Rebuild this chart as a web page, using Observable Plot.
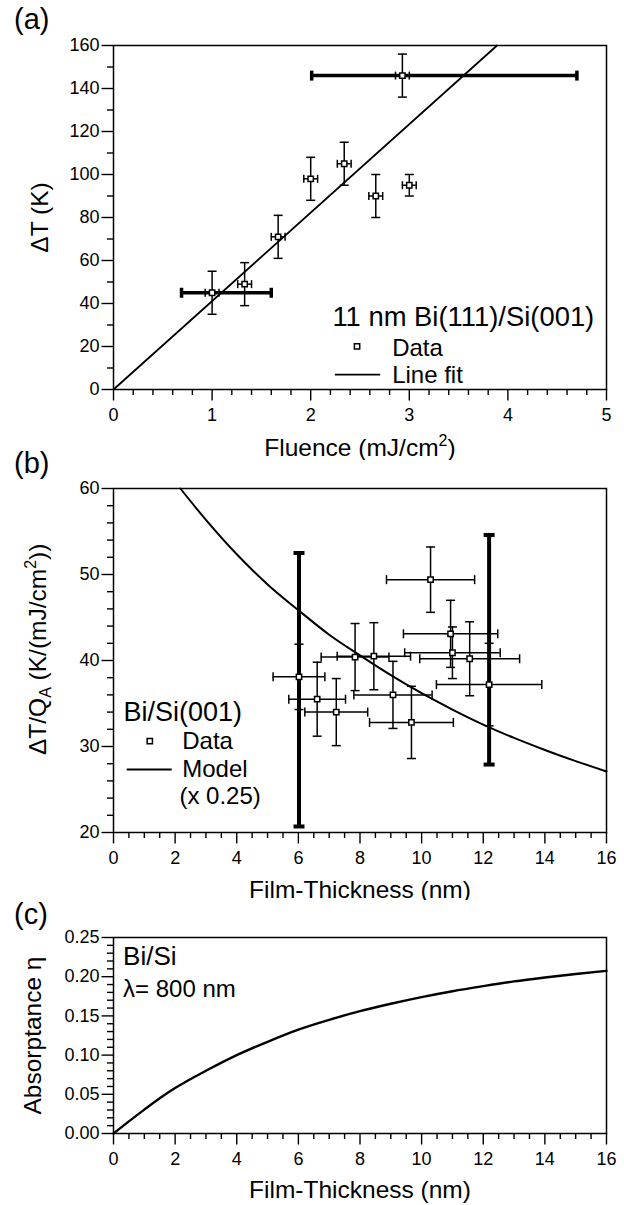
<!DOCTYPE html>
<html>
<head>
<meta charset="utf-8">
<script src="https://cdn.jsdelivr.net/npm/d3@7"></script>
<script src="https://cdn.jsdelivr.net/npm/@observablehq/plot@0.6"></script>
<style>
  body { margin: 0; background: #fff; }
  #wrap { position: relative; width: 624px; height: 1205px; background: #fff;
          font-family: "Liberation Sans", Arial, sans-serif; color: #000; }
  .panel { position: absolute; left: 0; }
  .plab { position: absolute; left: 14px; font-size: 29px; line-height: 29px; }
</style>
</head>
<body>
<div id="wrap">
  <div class="panel" id="pa" style="top:0px"></div>
  <div class="panel" id="pb" style="top:460px"></div>
  <div class="panel" id="pc" style="top:900px"></div>
  <div class="plab" style="top:5px">(a)</div>
  <div class="plab" style="top:449px">(b)</div>
  <div class="plab" style="top:900px">(c)</div>
</div>
<script>
// ---------- Panel (a): 11 nm Bi(111)/Si(001) ----------
const fluence      = [1.00, 1.33, 1.67, 2.00, 2.34, 2.66, 3.00, 2.93];
const deltaT       = [45, 49, 71, 98, 105, 90, 95, 146];
const deltaTErr    = [10, 10, 10, 10, 10, 10, 5, 10];
const fluenceErr   = [0.07, 0.07, 0.07, 0.07, 0.07, 0.07, 0.07, 0.07];
const wideErrY     = [45, 146];
const wideErrLo    = [0.69, 2.01];
const wideErrHi    = [1.60, 4.70];
const fitFluence   = [0, 3.89];
const fitDeltaT    = [0, 160];
const ticksFluence = [0, 1, 2, 3, 4, 5];
const ticksDeltaT  = [0, 20, 40, 60, 80, 100, 120, 140, 160];

// ---------- Panel (b): Bi/Si(001) ----------
const thickness    = [6.02, 6.61, 7.23, 7.84, 8.45, 9.07, 9.67, 10.29, 10.94, 11.00, 11.56, 12.19];
const dTQ          = [38.1, 35.5, 34.0, 40.4, 40.5, 36.0, 32.8, 49.4, 43.1, 40.9, 40.2, 37.2];
const dTQErr       = [3.8, 4.3, 3.9, 3.9, 3.9, 3.9, 4.2, 3.8, 3.9, 3.0, 4.3, 4.8];
const thicknessErr = [0.84, 0.92, 1.02, 1.10, 1.19, 1.27, 1.36, 1.43, 1.53, 1.55, 1.62, 1.71];
const wideQX       = [6.02, 12.19];
const wideQLo      = [20.7, 27.9];
const wideQHi      = [52.5, 54.6];
const modelThick   = [2.17, 3, 4, 5, 6, 7, 8, 9, 10, 11, 12, 13, 14, 15, 16];
const modelValue   = [60.0, 56.35, 52.35, 48.85, 45.85, 43.0, 40.6, 38.3, 36.2, 34.3, 32.55, 31.0, 29.6, 28.3, 27.1];
const ticksThick   = [0, 2, 4, 6, 8, 10, 12, 14, 16];
const ticksQ       = [20, 30, 40, 50, 60];

// ---------- Panel (c): absorptance ----------
const absThick     = [0, 0.5, 1, 1.5, 2, 3, 4, 5, 6, 7, 8, 9, 10, 11, 12, 13, 14, 15, 16];
const absorptance  = [0, 0.0155, 0.0305, 0.045, 0.058, 0.080, 0.100, 0.117, 0.1325, 0.145, 0.156, 0.1655, 0.174, 0.1815, 0.188, 0.194, 0.199, 0.2035, 0.2075];
const ticksAbs     = [0, 0.05, 0.10, 0.15, 0.20, 0.25];

// ---------- helpers ----------
const FONT = '"Liberation Sans", Arial, sans-serif';
const capH = {draw(ctx, size) { const r = Math.sqrt(size / Math.PI); ctx.moveTo(-r, 0); ctx.lineTo(r, 0); }};
const capV = {draw(ctx, size) { const r = Math.sqrt(size / Math.PI); ctx.moveTo(0, -r); ctx.lineTo(0, r); }};
const minor = (majors, step, n) => {
  const out = [];
  for (let i = 0; i < majors.length - 1; i++)
    for (let k = 1; k < n; k++) out.push(+(majors[i] + k * step).toFixed(4));
  return out;
};
const baseStyle = {fontFamily: FONT, fontSize: "18px", color: "black", background: "white", overflow: "visible"};
function axes(xt, xm, yt, ym, yfmt) {
  return [
    Plot.axisX(xt, {tickSize: 11.5, tickPadding: 7, label: null, strokeWidth: 1.4, fontSize: 18}),
    Plot.axisX(xm, {tickSize: 6, tickFormat: () => "", label: null, strokeWidth: 1.4}),
    Plot.axisY(yt, {tickSize: 11.5, tickPadding: 2.5, label: null, strokeWidth: 1.4, fontSize: 18, tickFormat: yfmt}),
    Plot.axisY(ym, {tickSize: 6, tickFormat: () => "", label: null, strokeWidth: 1.4}),
    Plot.frame({stroke: "black", strokeWidth: 1.5})
  ];
}
function errBarsY(data, x, lo, hi, sw, cap) {
  return [
    Plot.ruleX(data, {x, y1: lo, y2: hi, stroke: "black", strokeWidth: sw}),
    Plot.dot(data, {x, y: lo, symbol: capH, r: cap, stroke: "black", strokeWidth: sw, fill: "none"}),
    Plot.dot(data, {x, y: hi, symbol: capH, r: cap, stroke: "black", strokeWidth: sw, fill: "none"})
  ];
}
function errBarsX(data, y, lo, hi, sw, cap) {
  return [
    Plot.ruleY(data, {y, x1: lo, x2: hi, stroke: "black", strokeWidth: sw}),
    Plot.dot(data, {x: lo, y, symbol: capV, r: cap, stroke: "black", strokeWidth: sw, fill: "none"}),
    Plot.dot(data, {x: hi, y, symbol: capV, r: cap, stroke: "black", strokeWidth: sw, fill: "none"})
  ];
}
function rich(svg, plain, parts) {
  for (const t of svg.querySelectorAll("text")) {
    if (t.textContent === plain) {
      while (t.firstChild) t.removeChild(t.firstChild);
      for (const p of parts) {
        const s = document.createElementNS("http://www.w3.org/2000/svg", "tspan");
        s.textContent = p.t;
        if (p.dy) s.setAttribute("dy", p.dy);
        if (p.fs) s.setAttribute("font-size", p.fs);
        t.appendChild(s);
      }
    }
  }
}
const yTitle = (label, opts) => Plot.text([label], {frameAnchor: "left", rotate: -90, textAnchor: "middle", lineAnchor: "middle", fontSize: 24.5, ...opts});
const xTitle = (label, dy) => Plot.text([label], {frameAnchor: "bottom", dy, textAnchor: "middle", lineAnchor: "middle", fontSize: 24.5});
const legendText = (label, x, y, fontSize) => Plot.text([label], {x, y, textAnchor: "start", lineAnchor: "middle", fontSize});

// ---------- Panel (a) ----------
const A  = fluence.map((f, i) => ({x: f, y: deltaT[i], ex: fluenceErr[i], ey: deltaTErr[i]}));
const AW = wideErrY.map((y, i) => ({y, lo: wideErrLo[i], hi: wideErrHi[i]}));
const FIT = fitFluence.map((x, i) => ({x, y: fitDeltaT[i]}));
const plotA = Plot.plot({
  width: 624, height: 460,
  marginLeft: 113, marginRight: 18, marginTop: 45, marginBottom: 71,
  style: baseStyle,
  x: {domain: [0, 5]},
  y: {domain: [0, 160]},
  marks: [
    ...axes(ticksFluence, minor(ticksFluence, 0.2, 5), ticksDeltaT, minor(ticksDeltaT, 10, 2)),
    Plot.line(FIT, {x: "x", y: "y", stroke: "black", strokeWidth: 1.8}),
    ...errBarsX(AW, "y", "lo", "hi", 3.5, 5),
    ...errBarsY(A, "x", d => d.y - d.ey, d => d.y + d.ey, 1.5, 4.5),
    ...errBarsX(A, "y", d => d.x - d.ex, d => d.x + d.ex, 1.5, 4),
    Plot.dot(A, {x: "x", y: "y", symbol: "square", r: 3, fill: "white", stroke: "black", strokeWidth: 1.5}),
    // legend
    legendText("11 nm Bi(111)/Si(001)", 2.22, 33.6, 27.4),
    Plot.dot([0], {x: 2.47, y: 20.1, symbol: "square", r: 3, fill: "white", stroke: "black", strokeWidth: 1.5}),
    legendText("Data", 2.826, 19.2, 24),
    Plot.ruleY([0], {y: 6.9, x1: 2.25, x2: 2.71, stroke: "black", strokeWidth: 1.8}),
    legendText("Line fit", 2.826, 6.6, 24),
    // axis titles
    yTitle("ΔT (K)", {dx: -73}),
    xTitle("Fluence (mJ/cm2)", 59)
  ]
});
rich(plotA, "Fluence (mJ/cm2)", [{t: "Fluence (mJ/cm"}, {t: "2", dy: -10, fs: 16}, {t: ")", dy: 10}]);
document.getElementById("pa").appendChild(plotA);

// ---------- Panel (b) ----------
const B  = thickness.map((t, i) => ({x: t, y: dTQ[i], ex: thicknessErr[i], ey: dTQErr[i]}));
const BW = wideQX.map((x, i) => ({x, lo: wideQLo[i], hi: wideQHi[i]}));
const MODEL = modelThick.map((x, i) => ({x, y: modelValue[i]}));
const plotB = Plot.plot({
  width: 624, height: 440,
  marginLeft: 113, marginRight: 18, marginTop: 28, marginBottom: 68,
  style: baseStyle,
  x: {domain: [0, 16]},
  y: {domain: [20, 60]},
  marks: [
    ...axes(ticksThick, minor(ticksThick, 0.5, 4), ticksQ, minor(ticksQ, 2, 5)),
    Plot.line(MODEL, {x: "x", y: "y", curve: "monotone-x", stroke: "black", strokeWidth: 2}),
    ...errBarsY(BW, "x", "lo", "hi", 4, 5.5),
    ...errBarsX(B, "y", d => d.x - d.ex, d => d.x + d.ex, 1.5, 4.5),
    ...errBarsY(B, "x", d => d.y - d.ey, d => d.y + d.ey, 1.5, 4.5),
    Plot.dot(B, {x: "x", y: "y", symbol: "square", r: 3, fill: "white", stroke: "black", strokeWidth: 1.5}),
    // legend
    legendText("Bi/Si(001)", 0.325, 34.0, 27),
    Plot.dot([0], {x: 1.178, y: 30.62, symbol: "square", r: 3, fill: "white", stroke: "black", strokeWidth: 1.5}),
    legendText("Data", 2.23, 30.63, 24),
    Plot.ruleY([0], {y: 27.32, x1: 0.445, x2: 1.905, stroke: "black", strokeWidth: 2}),
    legendText("Model", 2.23, 27.3, 24),
    legendText("(x 0.25)", 2.14, 24.23, 24),
    // axis titles
    yTitle("ΔT/QA (K/(mJ/cm2))", {y: 41.3, dx: -75}),
    xTitle("Film-Thickness (nm)", 58)
  ]
});
rich(plotB, "ΔT/QA (K/(mJ/cm2))", [
  {t: "ΔT/Q"}, {t: "A", dy: 5, fs: 16}, {t: " (K/(mJ/cm", dy: -5},
  {t: "2", dy: -10, fs: 16}, {t: "))", dy: 10}
]);
document.getElementById("pb").appendChild(plotB);

// ---------- Panel (c) ----------
const C = absThick.map((x, i) => ({x, y: absorptance[i]}));
const plotC = Plot.plot({
  width: 624, height: 305,
  marginLeft: 113, marginRight: 18, marginTop: 37, marginBottom: 72,
  style: baseStyle,
  x: {domain: [0, 16]},
  y: {domain: [0, 0.25]},
  marks: [
    ...axes(ticksThick, minor(ticksThick, 0.5, 4), ticksAbs, minor(ticksAbs, 0.01, 5), d3.format(".2f")),
    Plot.line(C, {x: "x", y: "y", curve: "monotone-x", stroke: "black", strokeWidth: 2.4}),
    legendText("Bi/Si", 0.31, 0.2253, 26),
    legendText("λ= 800 nm", 0.31, 0.184, 24),
    yTitle("Absorptance η", {dx: -80}),
    xTitle("Film-Thickness (nm)", 57)
  ]
});
document.getElementById("pc").appendChild(plotC);
</script>
</body>
</html>
